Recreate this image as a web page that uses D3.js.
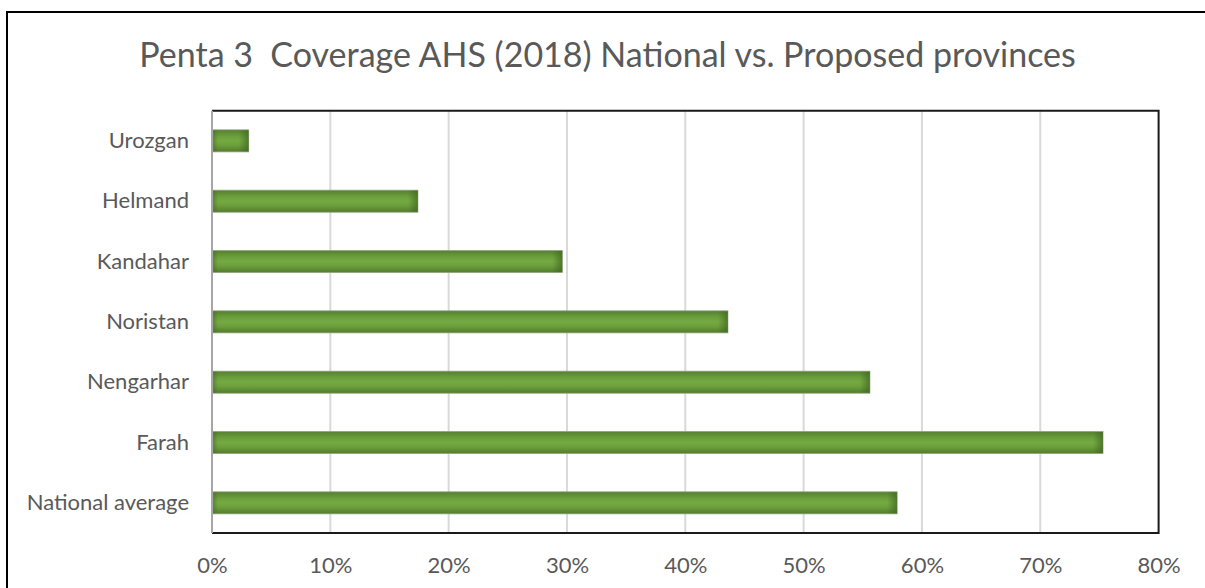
<!DOCTYPE html>
<html>
<head>
<meta charset="utf-8">
<script src="https://cdn.jsdelivr.net/npm/d3@7"></script>
<style>
  body { margin: 0; background: #fff; }
  svg text { font-family: Lato, "Open Sans", sans-serif; fill: #595959; }
</style>
</head>
<body>
<div id="chart"></div>
<script>
const categories = ["Urozgan", "Helmand", "Kandahar", "Noristan", "Nengarhar", "Farah", "National average"]
const coverage = [3.1, 17.4, 29.6, 43.6, 55.6, 75.3, 57.9]
const tickValues = [0, 10, 20, 30, 40, 50, 60, 70, 80]
const titleText = "Penta 3  Coverage AHS (2018) National vs. Proposed provinces"

const width = 1205
const height = 588
const margin = {left: 212, right: 1205 - 1158.6, top: 110.7, bottom: 588 - 533}

const svg = d3.select("#chart")
  .append("svg")
  .attr("width", width)
  .attr("height", height)

const defs = svg.append("defs")
const vg = defs.append("linearGradient")
  .attr("id", "barV").attr("x1", 0).attr("y1", 0).attr("x2", 0).attr("y2", 1)
vg.append("stop").attr("offset", "0%").attr("stop-color", "#557f2e")
vg.append("stop").attr("offset", "30%").attr("stop-color", "#6c9f3c")
vg.append("stop").attr("offset", "50%").attr("stop-color", "#74aa42")
vg.append("stop").attr("offset", "70%").attr("stop-color", "#6c9f3c")
vg.append("stop").attr("offset", "100%").attr("stop-color", "#527b2b")

const hg = defs.append("linearGradient")
  .attr("id", "barEnd").attr("x1", 0).attr("y1", 0).attr("x2", 1).attr("y2", 0)
hg.append("stop").attr("offset", "0%").attr("stop-color", "#3f6420").attr("stop-opacity", 0)
hg.append("stop").attr("offset", "100%").attr("stop-color", "#3f6420").attr("stop-opacity", 0.7)

const hs = defs.append("linearGradient")
  .attr("id", "barStart").attr("x1", 0).attr("y1", 0).attr("x2", 1).attr("y2", 0)
hs.append("stop").attr("offset", "0%").attr("stop-color", "#3f6420").attr("stop-opacity", 0.5)
hs.append("stop").attr("offset", "100%").attr("stop-color", "#3f6420").attr("stop-opacity", 0)

// outer chart border
svg.append("rect")
  .attr("x", 7).attr("y", 12)
  .attr("width", width + 20).attr("height", height + 20)
  .attr("fill", "none")
  .attr("stroke", "#000")
  .attr("stroke-width", 2)

svg.append("text")
  .attr("x", 607.5)
  .attr("y", 67)
  .attr("text-anchor", "middle")
  .style("font-size", "34px")
  .style("white-space", "pre")
  .text(titleText)

const xScale = d3.scaleLinear()
  .domain([0, 80])
  .range([margin.left, width - margin.right])

const yScale = d3.scaleBand()
  .domain(categories)
  .range([margin.top, height - margin.bottom])
  .paddingInner(0.635)
  .paddingOuter(0.3175)

// gridlines
svg.append("g")
  .selectAll("line")
  .data(tickValues.slice(1, -1))
  .enter()
  .append("line")
  .attr("x1", d => xScale(d))
  .attr("x2", d => xScale(d))
  .attr("y1", margin.top)
  .attr("y2", height - margin.bottom)
  .attr("stroke", "#d9d9d9")
  .attr("stroke-width", 2)

// bars
const bars = svg.append("g")
  .selectAll("g")
  .data(categories)
  .enter()
  .append("g")

bars.append("rect")
  .attr("x", xScale(0) + 1)
  .attr("y", d => yScale(d))
  .attr("width", (d, i) => xScale(coverage[i]) - xScale(0) - 1)
  .attr("height", yScale.bandwidth())
  .attr("fill", "url(#barV)")
  .attr("stroke", "#8fa57c")
  .attr("stroke-width", 0.8)

bars.append("rect")
  .attr("x", (d, i) => xScale(coverage[i]) - 10)
  .attr("y", d => yScale(d) + 0.5)
  .attr("width", 10)
  .attr("height", yScale.bandwidth() - 1)
  .attr("fill", "url(#barEnd)")

bars.append("rect")
  .attr("x", xScale(0) + 1)
  .attr("y", d => yScale(d) + 0.5)
  .attr("width", 5)
  .attr("height", yScale.bandwidth() - 1)
  .attr("fill", "url(#barStart)")

// plot frame
svg.append("path")
  .attr("d", `M${xScale(0)},${margin.top} H${xScale(80)} V${height - margin.bottom} H${xScale(0)}`)
  .attr("fill", "none")
  .attr("stroke", "#1a1a1a")
  .attr("stroke-width", 2)

svg.append("line")
  .attr("x1", xScale(0)).attr("x2", xScale(0))
  .attr("y1", margin.top).attr("y2", height - margin.bottom)
  .attr("stroke", "#a6a6a6")
  .attr("stroke-width", 2)

const xAxis = d3.axisBottom(xScale)
  .tickValues(tickValues)
  .tickFormat(d => d + "%")
  .tickSize(0)
  .tickPadding(24)

svg.append("g")
  .attr("transform", `translate(0,${height - margin.bottom})`)
  .call(xAxis)
  .call(g => g.select(".domain").remove())
  .selectAll("text")
  .style("font-size", "22px")
  .attr("fill", "#595959")

const yAxis = d3.axisLeft(yScale)
  .tickSize(0)
  .tickPadding(23)

svg.append("g")
  .attr("transform", `translate(${margin.left},0)`)
  .call(yAxis)
  .call(g => g.select(".domain").remove())
  .selectAll("text")
  .style("font-size", "22px")
  .attr("fill", "#595959")
</script>
</body>
</html>
